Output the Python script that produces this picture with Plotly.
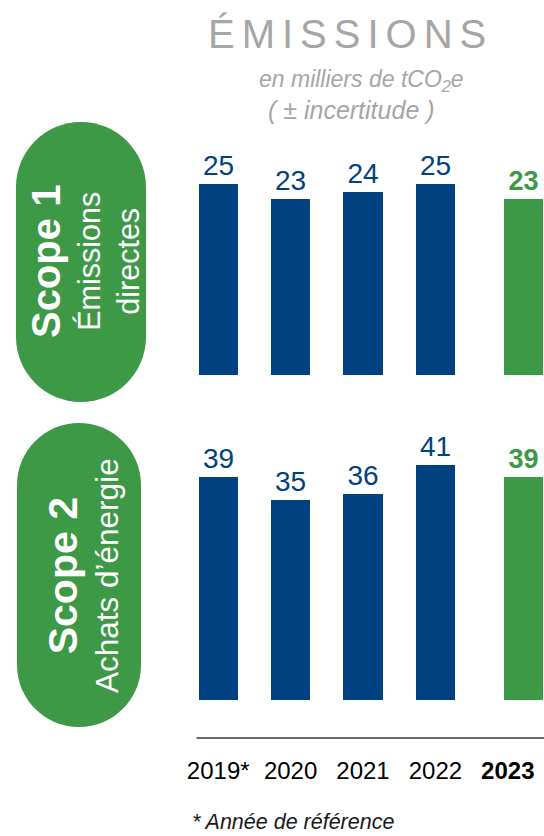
import plotly.graph_objects as go

# ---------------- data ----------------
years = ["2019", "2020", "2021", "2022", "2023"]
year_labels = ["2019*", "2020", "2021", "2022", "<b>2023</b>"]
scope1_values = [25, 23, 24, 25, 23]
scope2_values = [39, 35, 36, 41, 39]

title_text = "ÉMISSIONS"
subtitle_line1 = "en milliers de tCO<sub>2</sub>e"
subtitle_line2 = "( ± incertitude )"
scope1_name = "Scope 1"
scope1_desc = ["Émissions", "directes"]
scope2_name = "Scope 2"
scope2_desc = ["Achats d’énergie"]
footnote_text = "* Année de référence"

# ---------------- style ----------------
W, H = 544, 836
L = 182
PW = W - L
BLUE = "#00427F"
GREEN = "#3D9946"
GRAY = "#A6A6A6"
FONT = "Liberation Sans, Arial, sans-serif"
BAR_W = 0.54
HIGHLIGHT_SHIFT = 0.22


def px_x(px):
    return (px - L) / PW


def px_y(py):
    return 1 - py / H


n = len(years)
last = n - 1
bar_colors = [GREEN if i == last else BLUE for i in range(n)]
offsets = [(-BAR_W / 2 + (HIGHLIGHT_SHIFT if i == last else 0)) for i in range(n)]


def labels(vals):
    return [f"<b>{v}</b>" if i == last else str(v) for i, v in enumerate(vals)]


fig = go.Figure()
for vals, xa, ya in [(scope1_values, "x", "y"), (scope2_values, "x2", "y2")]:
    fig.add_trace(go.Bar(
        x=years, y=vals, xaxis=xa, yaxis=ya,
        marker=dict(color=bar_colors, line=dict(width=0)),
        width=BAR_W, offset=offsets,
        text=labels(vals), textposition="outside",
        textfont=dict(family=FONT, size=[28, 28, 28, 28, 27], color=bar_colors),
        cliponaxis=False, hoverinfo="skip", showlegend=False,
    ))


# pill shapes
def pill_path(xl, xr, yt, yb):
    r = (xr - xl) / 2
    cx = (xl + xr) / 2
    k = 0.5523 * r
    pts = lambda x, y: f"{px_x(x):.5f},{px_y(y):.5f}"
    return (
        f"M {pts(xl, yt + r)} "
        f"C {pts(xl, yt + r - k)} {pts(cx - k, yt)} {pts(cx, yt)} "
        f"C {pts(cx + k, yt)} {pts(xr, yt + r - k)} {pts(xr, yt + r)} "
        f"L {pts(xr, yb - r)} "
        f"C {pts(xr, yb - r + k)} {pts(cx + k, yb)} {pts(cx, yb)} "
        f"C {pts(cx - k, yb)} {pts(xl, yb - r + k)} {pts(xl, yb - r)} Z"
    )


shapes = [
    dict(type="path", xref="paper", yref="paper", path=pill_path(16, 146, 122, 402),
         fillcolor=GREEN, line=dict(width=0), layer="below"),
    dict(type="path", xref="paper", yref="paper", path=pill_path(17, 141, 423, 727),
         fillcolor=GREEN, line=dict(width=0), layer="below"),
    dict(type="line", xref="x2", yref="paper", x0=-0.3, x1=4.5,
         y0=px_y(738), y1=px_y(738), line=dict(color="#3a3a3a", width=1.5)),
]

annotations = [
    dict(text=f"<span style='letter-spacing:7px'>{title_text}</span>",
         x=px_x(350), y=px_y(33.5), font=dict(family=FONT, size=40, color=GRAY)),
    dict(text=f"<i>{subtitle_line1}</i>", x=px_x(361), y=px_y(80),
         font=dict(family=FONT, size=23, color=GRAY)),
    dict(text=f"<i>{subtitle_line2}</i>", x=px_x(351), y=px_y(110),
         font=dict(family=FONT, size=25, color=GRAY)),
    dict(text=f"<span style='font-size:40px'><b>{scope1_name}</b></span><br>" + "<br>".join(scope1_desc),
         x=px_x(84), y=px_y(262), textangle=-90,
         font=dict(family=FONT, size=30.5, color="white")),
    dict(text=f"<span style='font-size:41px'><b>{scope2_name}</b></span><br>" + "<br>".join(scope2_desc),
         x=px_x(82), y=px_y(576), textangle=-90,
         font=dict(family=FONT, size=31.5, color="white")),
    dict(text=f"<i>{footnote_text}</i>", x=px_x(190), y=px_y(822), xanchor="left",
         font=dict(family=FONT, size=21.5, color="#1a1a1a")),
]
for a in annotations:
    a.setdefault("xref", "paper")
    a.setdefault("yref", "paper")
    a.setdefault("showarrow", False)
    a.setdefault("xanchor", "center")
    a.setdefault("yanchor", "middle")

axis_common = dict(type="category", range=[-0.5, 4.5], showgrid=False, zeroline=False,
                   showline=False, ticks="", fixedrange=True, automargin=False)

fig.update_layout(
    width=W, height=H,
    margin=dict(l=L, r=0, t=0, b=0),
    paper_bgcolor="white", plot_bgcolor="white",
    font=dict(family=FONT),
    showlegend=False,
    bargap=0,
    xaxis=dict(domain=[0, 1], anchor="y", showticklabels=False, **axis_common),
    yaxis=dict(domain=[px_y(375), px_y(140)], range=[0, 235 / 7.64], visible=False, anchor="x"),
    xaxis2=dict(domain=[0, 1], anchor="y2", showticklabels=True,
                tickmode="array", tickvals=years, ticktext=year_labels,
                tickfont=dict(family=FONT, size=24, color="#000000"),
                ticklabelstandoff=16, **axis_common),
    yaxis2=dict(domain=[px_y(738), px_y(420)], range=[-38 / 5.7256, 280 / 5.7256],
                visible=False, anchor="x2"),
    shapes=shapes,
    annotations=annotations,
)

fig.write_html(
    "out.html",
    config={"displayModeBar": False},
    post_script="document.body.style.margin='0';document.body.style.overflow='hidden';",
)
